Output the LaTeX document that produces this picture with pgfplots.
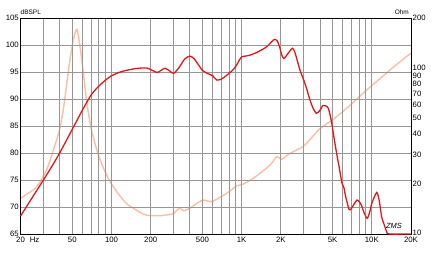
\documentclass[border=0pt]{standalone}
\usepackage{fontspec}
\setmainfont{Liberation Sans}
\usepackage{pgfplots}
\usepackage{pgfplotstable}
\pgfplotsset{compat=1.18}
\definecolor{spl}{RGB}{228,22,22}
\definecolor{imp}{RGB}{250,190,162}
\definecolor{gridc}{RGB}{150,150,150}
\pgfplotstableread{
f db
20 68.3
25 72.0
30 75.0
35 77.6
40 80.0
50 84.4
60 88.0
70 90.8
80 92.4
90 93.5
100 94.3
120 95.1
150 95.6
175 95.75
190 95.7
210 95.2
225 94.9
240 95.3
258 95.7
280 95.2
300 94.75
330 95.8
365 97.4
400 97.95
430 97.5
470 96.2
500 95.3
550 94.7
600 94.3
645 93.5
700 93.7
750 94.2
800 94.75
850 95.3
900 96.0
950 97.0
1000 97.8
1070 97.95
1150 98.1
1300 98.6
1450 99.2
1560 99.7
1700 100.6
1790 101.05
1870 100.8
1950 99.8
2030 98.2
2110 97.5
2250 98.3
2450 99.4
2550 98.8
2650 97.5
2800 95.4
3000 93.5
3150 92.0
3350 89.8
3550 88.2
3750 87.35
4000 87.9
4200 88.8
4450 88.7
4650 88.2
4900 85.8
5150 82.5
5370 79.9
5650 77.0
5900 74.4
6100 73.6
6300 71.9
6700 69.5
7000 69.8
7700 71.3
8300 70.4
8700 69.0
9200 67.9
9600 68.9
10000 70.7
10900 72.7
11400 71.2
11900 68.2
12500 66.6
13000 65.4
13600 65.0
20000 65.0
}\spldata
\pgfplotstableread{
f z
20 16.4
23 17.6
25.5 18.6
28.3 20.6
30 22.3
32.5 25.5
35.3 31
39.6 41.5
42.5 55
45 77
47.8 110
51.1 150
54.3 171
57.3 135
60.9 93
64.6 62
70.2 42.3
79.3 29.9
90.4 23.2
103 19.3
130 15.3
175 13.2
200 12.9
238 12.9
280 13.1
300 13.3
333 14.3
358 13.8
400 14.3
500 16.0
583 15.65
700 16.8
800 18.0
912 19.5
1000 19.8
1230 21.65
1650 26.0
1860 29.2
2030 28.2
2350 30.6
3000 33.9
3950 42.7
5000 48.7
6400 57.1
8500 70.1
11500 86
15300 104
20000 123
}\impdata
\begin{document}
\begin{tikzpicture}
\begin{axis}[
  scale only axis, width=390.5bp, height=216bp,
  xmode=log, xmin=20, xmax=20000, ymode=log, ymin=10, ymax=200,
  hide x axis, axis y line*=right,
  ytick={10,20,30,40,50,60,70,80,90,100,200},
  yticklabels={\raisebox{2bp}{10},20,30,40,50,60,70,80,90,100,200},
  major tick length=0pt, minor tick length=0pt,
  axis line style={black, line width=0.9bp},
  ticklabel style={font=\fontsize{7.8}{9}\selectfont},
  yticklabel style={inner sep=1.5bp},
  /pgf/number format/assume math mode=true,
  clip=false,
]
\addplot[imp, line width=1.4bp, smooth, tension=0.4] table[x=f,y=z] {\impdata};
\end{axis}
\begin{axis}[
  scale only axis, width=390.5bp, height=216bp,
  xmode=log, xmin=20, xmax=20000, ymin=65, ymax=105,
  xtick={20,50,100,200,500,1000,2000,5000,10000,20000},
  xticklabels={20\rlap{\hspace{5bp}Hz},50,100,200,500,1K,2K,5K,10K,20K},
  minor xtick={30,40,60,70,80,90,300,400,600,700,800,900,3000,4000,6000,7000,8000,9000},
  ytick={65,70,75,80,85,90,95,100,105},
  grid=both,
  major grid style={draw=gridc, line width=0.9bp},
  minor grid style={draw=gridc, line width=0.9bp},
  major tick length=0pt, minor tick length=0pt,
  axis line style={black, line width=0.9bp},
  ticklabel style={font=\fontsize{7.8}{9}\selectfont},
  yticklabel style={inner sep=1.5bp},
  xticklabel style={inner sep=1.5bp, yshift=-1.5bp},
  /pgf/number format/assume math mode=true,
  axis background/.style={fill=none},
  clip=false,
]
\coordinate (sw) at (rel axis cs:0,0);
\coordinate (ne) at (rel axis cs:1,1);
\addplot[spl, line width=1.3bp, smooth, tension=0.4] table[x=f,y=db] {\spldata};
\node[anchor=south west, inner sep=0, font=\fontsize{6.5}{7}\selectfont] at ([yshift=3bp]rel axis cs:0,1) {dBSPL};
\node[anchor=south east, inner sep=0, font=\fontsize{6.5}{7}\selectfont] at ([xshift=-2bp,yshift=3.5bp]rel axis cs:1,1) {Ohm};
\node[font=\fontsize{7.5}{8}\selectfont\itshape] at (axis cs:14800,66.5) {ZMS};
\end{axis}
\pgfresetboundingbox
\path[use as bounding box] ([shift={(-20.5bp,-27bp)}]sw) rectangle ([shift={(26bp,18bp)}]ne);
\end{tikzpicture}
\end{document}
